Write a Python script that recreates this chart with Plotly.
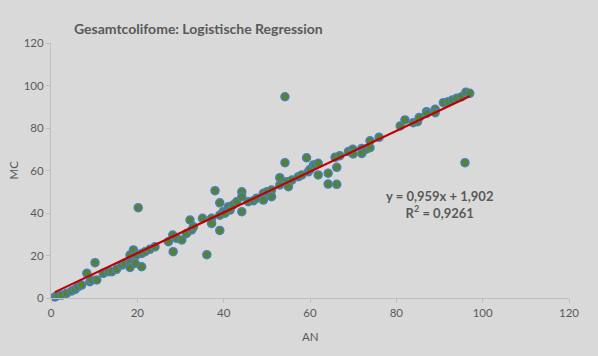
import plotly.graph_objects as go

an = [0.9, 1.3, 2.5, 3.6, 4.8, 5.6, 6.3, 7.1, 8.3, 9.0, 9.4, 10.2, 10.6, 12.1, 13.3, 14.1, 15.2, 16.4,
      17.1, 18.3, 18.3, 18.3, 19.1, 19.5, 19.8, 20.2, 21.0, 21.0, 21.8, 22.9, 24.1, 27.2, 28.2, 28.3,
      29.1, 30.3, 31.4, 32.2, 32.6, 33.0, 35.1, 36.1, 37.2, 37.2, 38.0, 39.1, 39.1, 39.1, 39.9, 40.3,
      41.1, 41.5, 42.2, 43.0, 44.2, 44.2, 44.2, 45.7, 46.9, 47.6, 49.2, 49.2, 50.0, 51.1, 51.1, 53.0,
      53.0, 54.2, 54.2, 54.6, 55.0, 55.8, 57.3, 58.1, 59.2, 59.6, 60.0, 60.8, 61.2, 61.9, 61.9, 64.2,
      64.2, 65.8, 66.2, 66.2, 66.9, 68.9, 69.9, 70.0, 72.0, 72.0, 73.0, 73.9, 73.9, 76.0, 80.9, 82.0,
      83.9, 84.9, 85.3, 87.0, 87.0, 89.0, 89.0, 90.9, 92.0, 93.0, 94.0, 95.1, 95.9, 96.1, 97.0]
mc = [0.5, 1.0, 1.4, 2.2, 3.3, 4.1, 5.3, 6.1, 11.6, 7.7, 8.5, 16.6, 8.5, 11.6, 12.4, 12.4, 13.5, 15.5,
      16.3, 16.6, 14.4, 20.2, 22.6, 16.3, 20.2, 42.5, 14.7, 21.0, 21.8, 22.9, 24.1, 26.5, 29.6, 21.8,
      28.1, 27.3, 30.4, 36.7, 32.0, 33.5, 37.5, 20.4, 37.5, 35.1, 50.5, 44.8, 31.8, 39.0, 40.6, 39.9,
      43.0, 41.4, 43.8, 45.3, 50.0, 47.7, 40.6, 45.3, 45.8, 46.9, 49.3, 46.1, 50.0, 50.8, 47.7, 53.2,
      56.6, 94.7, 63.7, 54.7, 52.4, 55.5, 57.1, 57.9, 66.0, 59.4, 60.5, 62.6, 62.6, 63.4, 57.9, 58.7,
      53.6, 66.2, 61.5, 53.5, 67.0, 68.9, 70.0, 67.8, 70.4, 68.0, 70.0, 74.0, 70.7, 75.6, 81.0, 83.8,
      82.5, 83.0, 85.0, 87.7, 86.9, 88.8, 87.2, 91.9, 92.4, 93.2, 94.0, 94.7, 63.7, 96.8, 96.3]

slope = 0.959
intercept = 1.902
r2_text = "0,9261"
eq_text = "y = 0,959x + 1,902"
title_text = "Gesamtcolifome: Logistische Regression"
tick_vals = [0, 20, 40, 60, 80, 100, 120]

FONT = "Lato, 'Open Sans', sans-serif"
GRAY = "#595959"
BG = "#d9d9d9"

fig = go.Figure()
fig.add_trace(go.Scatter(
    x=an, y=mc, mode="markers", cliponaxis=False,
    marker=dict(size=8, color="#548235", line=dict(color="#4a7fb8", width=1.5)),
    showlegend=False, hoverinfo="x+y"))

x_line = [min(an), max(an)]
y_line = [slope * v + intercept for v in x_line]
fig.add_trace(go.Scatter(
    x=x_line, y=y_line, mode="lines", cliponaxis=False,
    line=dict(color="#c00000", width=2.2), showlegend=False, hoverinfo="skip"))

axis_common = dict(
    range=[0, 120], tickvals=tick_vals, showgrid=False, zeroline=False,
    showline=True, linecolor="#bfbfbf", linewidth=1,
    ticks="outside", ticklen=4, tickcolor="#bfbfbf",
    tickfont=dict(family=FONT, size=11.5, color=GRAY), fixedrange=True)

fig.update_layout(
    width=598, height=356,
    margin=dict(l=51, r=29, t=43, b=58),
    paper_bgcolor=BG, plot_bgcolor=BG,
    font=dict(family=FONT, color=GRAY),
    title=dict(text="<b>" + title_text + "</b>", x=74 / 598, xanchor="left",
               y=1 - 29 / 356, yanchor="middle",
               font=dict(family=FONT, size=14, color=GRAY)),
    xaxis=axis_common, yaxis=axis_common,
)

fig.add_annotation(text="<b>" + eq_text + "<br>R<sup>2</sup> = " + r2_text + "</b>",
                   x=90.1, y=44.2, xref="x", yref="y", showarrow=False,
                   xanchor="center", yanchor="middle", align="center",
                   font=dict(family=FONT, size=13, color=GRAY))
fig.add_annotation(text="MC", x=(13 - 51) / 518, y=0.5, xref="paper", yref="paper",
                   showarrow=False, textangle=-90, xanchor="center", yanchor="middle",
                   font=dict(family=FONT, size=11.5, color=GRAY))
fig.add_annotation(text="AN", x=0.5, y=(298 - 336) / 255, xref="paper", yref="paper",
                   showarrow=False, xanchor="center", yanchor="middle",
                   font=dict(family=FONT, size=11.5, color=GRAY))

fig.write_html("out.html", config={"displayModeBar": False},
               post_script="document.body.style.margin='0';document.body.style.overflow='hidden';")
